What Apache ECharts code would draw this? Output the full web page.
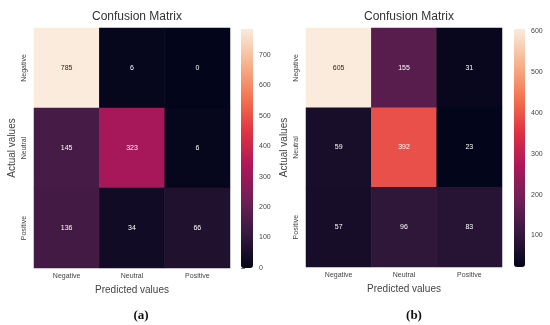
<!DOCTYPE html>
<html><head><meta charset="utf-8">
<script src="https://cdn.jsdelivr.net/npm/echarts@6/dist/echarts.min.js"></script>
<style>html,body{margin:0;padding:0;background:#fff}#c{width:550px;height:325px}</style>
</head><body><div id="c"></div>
<script>
const categories = ['Negative', 'Neutral', 'Positive'];
// rows = actual values, columns = predicted values
const matrixA = [[785, 6, 0], [145, 323, 6], [136, 34, 66]];
const matrixB = [[605, 155, 31], [59, 392, 23], [57, 96, 83]];
const ticksA = [0, 100, 200, 300, 400, 500, 600, 700];
const ticksB = [100, 200, 300, 400, 500, 600];
const rocket = ['#03051a', '#35193e', '#701f57', '#ad1759', '#e13342', '#f37651', '#f6b48f', '#faebdd'];

const FONT = 'Liberation Sans';
function toData(m) {
  const out = [];
  let mn = Infinity, mx = -Infinity;
  m.forEach(r => r.forEach(v => { mn = Math.min(mn, v); mx = Math.max(mx, v); }));
  m.forEach((row, i) => row.forEach((v, j) => {
    const t = (v - mn) / (mx - mn);
    out.push({ value: [j, i, v], label: { color: t > 0.75 ? '#262626' : '#ffffff' } });
  }));
  return { data: out, min: mn, max: mx };
}
const A = toData(matrixA), B = toData(matrixB);

const grids = [
  { left: 34, top: 28, width: 196, height: 240 },
  { left: 306, top: 28, width: 196, height: 239 },
  { left: 241, top: 29, width: 12, height: 239 },
  { left: 514, top: 29, width: 11, height: 238 }
];
function catX(g) {
  return { type: 'category', gridIndex: g, data: categories, position: 'bottom',
    axisLine: { show: false }, axisTick: { show: false }, splitLine: { show: false },
    axisLabel: { fontFamily: FONT, fontSize: 7, color: '#444', margin: 5 },
    name: 'Predicted values', nameLocation: 'middle', nameGap: 15,
    nameTextStyle: { fontFamily: FONT, fontSize: 10, color: '#444' } };
}
function catY(g) {
  return { type: 'category', gridIndex: g, data: categories, inverse: true,
    axisLine: { show: false }, axisTick: { show: false }, splitLine: { show: false },
    axisLabel: { fontFamily: FONT, fontSize: 7, color: '#444', rotate: 90, margin: 6 },
    name: 'Actual values', nameLocation: 'middle', nameGap: 17,
    nameTextStyle: { fontFamily: FONT, fontSize: 10, color: '#444' } };
}
function hidX(g) { return { type: 'value', gridIndex: g, show: false, min: 0, max: 1,
  axisLabel: { show: false }, axisTick: { show: false }, axisLine: { show: false }, splitLine: { show: false } }; }
function barY(g, mn, mx, ticks) {
  return { type: 'value', gridIndex: g, position: 'right', min: mn, max: mx,
    axisLine: { show: false }, splitLine: { show: false },
    axisTick: { show: true, length: 4, lineStyle: { color: '#777' }, customValues: ticks },
    axisLabel: { fontFamily: FONT, fontSize: 7, color: '#444', margin: 6, customValues: ticks } };
}

const option = {
  animation: false,
  backgroundColor: '#ffffff',
  title: [
    { text: 'Confusion Matrix', left: 132, top: 6, textAlign: 'center', textStyle: { fontFamily: FONT, fontSize: 12, fontWeight: 'normal', color: '#333' } },
    { text: 'Confusion Matrix', left: 404, top: 6, textAlign: 'center', textStyle: { fontFamily: FONT, fontSize: 12, fontWeight: 'normal', color: '#333' } },
    { text: '(a)', left: 136, top: 304, textAlign: 'center', textStyle: { fontFamily: 'Liberation Serif', fontSize: 13, fontWeight: 'bold', color: '#111' } },
    { text: '(b)', left: 409, top: 304, textAlign: 'center', textStyle: { fontFamily: 'Liberation Serif', fontSize: 13, fontWeight: 'bold', color: '#111' } }
  ],
  grid: grids,
  xAxis: [catX(0), catX(1), hidX(2), hidX(3)],
  yAxis: [catY(0), catY(1), barY(2, A.min, A.max, ticksA), barY(3, B.min, B.max, ticksB)],
  visualMap: [
    { type: 'continuous', seriesIndex: 0, min: A.min, max: A.max, calculable: false, show: true,
      left: 241, top: 29, padding: 0, itemWidth: 12, itemHeight: 239, text: null,
      textStyle: { color: 'rgba(0,0,0,0)', fontSize: 1 },
      inRange: { color: rocket } },
    { type: 'continuous', seriesIndex: 1, min: B.min, max: B.max, calculable: false, show: true,
      left: 514, top: 29, padding: 0, itemWidth: 11, itemHeight: 238, text: null,
      textStyle: { color: 'rgba(0,0,0,0)', fontSize: 1 },
      inRange: { color: rocket } }
  ],
  series: [
    { type: 'heatmap', xAxisIndex: 0, yAxisIndex: 0, data: A.data,
      label: { show: true, fontFamily: FONT, fontSize: 7, formatter: p => p.value[2] } },
    { type: 'heatmap', xAxisIndex: 1, yAxisIndex: 1, data: B.data,
      label: { show: true, fontFamily: FONT, fontSize: 7, formatter: p => p.value[2] } }
  ]
};
echarts.init(document.getElementById('c'), null, { renderer: 'canvas' }).setOption(option);
</script>
</body></html>
